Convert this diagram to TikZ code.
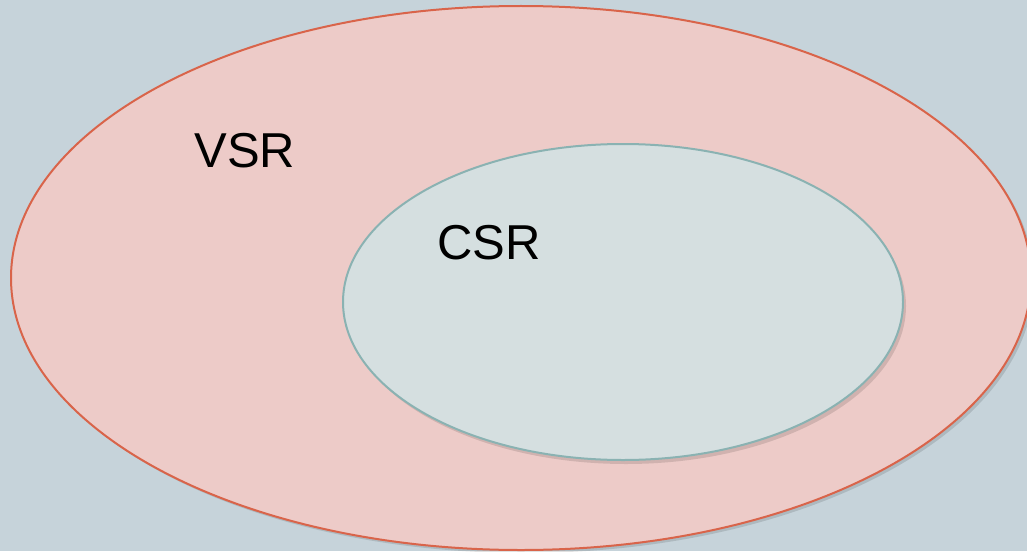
\documentclass[tikz,border=0pt]{standalone}
\usepackage{fontspec}
\setmainfont{Liberation Sans}
\definecolor{bgcol}{RGB}{198,211,218}
\definecolor{vsrfill}{RGB}{237,203,200}
\definecolor{vsrline}{RGB}{217,100,74}
\definecolor{csrfill}{RGB}{213,223,224}
\definecolor{csrline}{RGB}{138,178,178}
\tikzset{
  setlabel/.style={anchor=center,inner sep=0.75pt,font=\fontsize{49}{58}\selectfont},
  setshadow/.style={draw=none,fill=black,fill opacity=0.12}
}
\begin{document}
\begin{tikzpicture}[x=1pt,y=1pt,yscale=-1,xscale=1]
%Background
\useasboundingbox (0,0) rectangle (1027,551);
\fill [bgcol] (0,0) rectangle (1027,551);
\clip (0,0) rectangle (1027,551);

%Shape: Ellipse VSR (shadow)
\path [setshadow] (524,281) ellipse [x radius=510, y radius=272];
%Shape: Ellipse VSR
\draw [draw=vsrline,fill=vsrfill,line width=2] (521,278) ellipse [x radius=510, y radius=272];

%Shape: Ellipse CSR (shadow)
\path [setshadow] (626,306) ellipse [x radius=280, y radius=158];
%Shape: Ellipse CSR
\draw [draw=csrline,fill=csrfill,line width=2] (623,302) ellipse [x radius=280, y radius=158];

% Text Node
\node [setlabel] (vsr) at (245,151) {VSR};
% Text Node
\node [setlabel] (csr) at (489,243) {CSR};

\end{tikzpicture}
\end{document}
